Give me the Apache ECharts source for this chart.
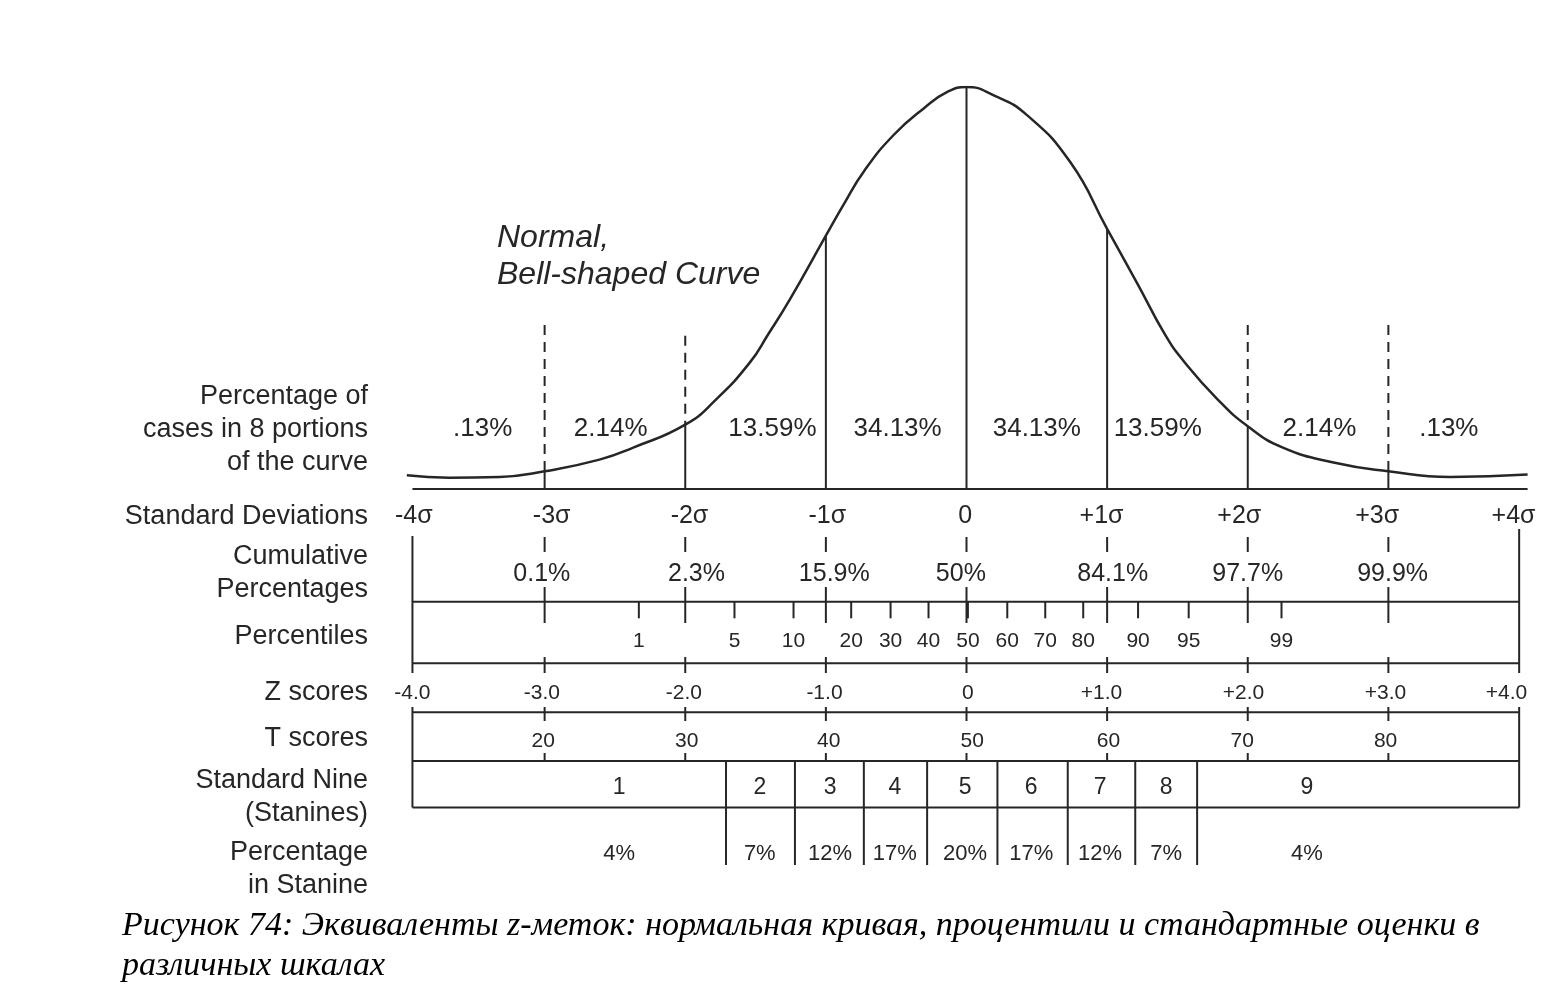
<!DOCTYPE html>
<html>
<head>
<meta charset="utf-8">
<title>Normal curve scales</title>
<script src="https://cdn.jsdelivr.net/npm/echarts@6.0.0/dist/echarts.min.js"></script>
<style>
  html, body { margin: 0; padding: 0; background: #fff; }
  #app { width: 1556px; height: 991px; }
</style>
</head>
<body>
<div id="app"></div>
<script>
// bell curve (x in sigma, height as % of the peak)
const curveSigma = [-3.98, -3.68, -3.32, -3, -2.61, -2.37, -2, -1.78, -1.54, -1.41, -1.26, -1, -0.87, -0.73, -0.52, -0.3, -0.13, 0,
  0.19, 0.43, 0.74, 1, 1.22, 1.41, 1.54, 1.78, 2, 2.25, 2.61, 3, 3.44, 3.99];
const curveHeight = [3.4, 2.8, 3.0, 4.4, 7.3, 10.3, 16.0, 22.3, 31.5, 38.5, 46.9, 63.0, 71.0, 79.0, 88.0, 94.8, 98.9, 100,
  98.0, 93.0, 81.2, 64.7, 50.8, 38.5, 32.0, 22.5, 15.6, 10.3, 6.6, 4.4, 3.0, 3.6];

const sigmaLines = [-3, -2, -1, 0, 1, 2, 3];
const dashedSigma = [-3, -2, 2, 3];
const dashedTop = [40.8, 38.1, 40.8, 40.8];

const portionPercent = [".13%", "2.14%", "13.59%", "34.13%", "34.13%", "13.59%", "2.14%", ".13%"];
const portionAt = [-3.44, -2.53, -1.38, -0.49, 0.5, 1.36, 2.51, 3.43];

const sigmaLabels = ["-4σ", "-3σ", "-2σ", "-1σ", "0", "+1σ", "+2σ", "+3σ", "+4σ"];
const sigmaLabelAt = [-3.93, -2.95, -1.97, -0.99, -0.01, 0.96, 1.94, 2.92, 3.89];

const cumPercent = ["0.1%", "2.3%", "15.9%", "50%", "84.1%", "97.7%", "99.9%"];
const cumPercentAt = [-3.02, -1.92, -0.94, -0.04, 1.04, 2.0, 3.03];

const percentiles = [1, 5, 10, 20, 30, 40, 50, 60, 70, 80, 90, 95, 99];
const percentileAt = [-2.33, -1.65, -1.23, -0.82, -0.54, -0.27, 0.01, 0.29, 0.56, 0.83, 1.22, 1.58, 2.24];

const zScores = ["-4.0", "-3.0", "-2.0", "-1.0", "0", "+1.0", "+2.0", "+3.0", "+4.0"];
const zScoreAt = [-3.94, -3.02, -2.01, -1.01, 0.01, 0.96, 1.97, 2.98, 3.84];

const tScores = [20, 30, 40, 50, 60, 70, 80];
const tScoreAt = [-3.01, -1.99, -0.98, 0.04, 1.01, 1.96, 2.98];

const stanines = [1, 2, 3, 4, 5, 6, 7, 8, 9];
const stanineEdges = [-1.71, -1.22, -0.73, -0.28, 0.22, 0.72, 1.2, 1.64];
const stanineAt = [-2.47, -1.47, -0.97, -0.51, -0.01, 0.46, 0.95, 1.42, 2.42];
const staninePercent = ["4%", "7%", "12%", "17%", "20%", "17%", "12%", "7%", "4%"];

const rowTitles = [
  "Percentage of\ncases in 8 portions\nof the curve",
  "Standard Deviations",
  "Cumulative\nPercentages",
  "Percentiles",
  "Z scores",
  "T scores",
  "Standard Nine\n(Stanines)",
  "Percentage\nin Stanine",
];
const rowTitleY = [430, 517, 573, 637, 693, 739, 797, 869];

const ink = "#262626";
const sans = '"Liberation Sans", Arial, sans-serif';

const app = document.getElementById("app");
const myChart = echarts.init(app);

function curveAt(x) {
  return curveHeight[curveSigma.indexOf(x)];
}

// text row drawn through the axes of grid gi
function textRow(gi, xs, texts, y, size) {
  return {
    type: "custom",
    xAxisIndex: gi,
    yAxisIndex: gi,
    silent: true,
    data: xs.map((x) => [x, y]),
    renderItem: function (params, api) {
      const p = api.coord([api.value(0), api.value(1)]);
      return {
        type: "text",
        style: {
          text: String(texts[params.dataIndex]),
          x: p[0],
          y: p[1] + 2.5,
          align: "center",
          verticalAlign: "middle",
          fill: ink,
          font: size + "px " + sans,
        },
      };
    },
  };
}

// vertical segments [x, yFrom, yTo]
function vSegs(gi, items, dash) {
  return {
    type: "custom",
    xAxisIndex: gi,
    yAxisIndex: gi,
    silent: true,
    data: items,
    renderItem: function (params, api) {
      const a = api.coord([api.value(0), api.value(1)]);
      const b = api.coord([api.value(0), api.value(2)]);
      return {
        type: "line",
        shape: { x1: a[0], y1: a[1], x2: b[0], y2: b[1] },
        style: { stroke: ink, lineWidth: 2, lineDash: dash || null },
      };
    },
  };
}

// horizontal segments [xFrom, xTo, y]
function hSegs(gi, items) {
  return {
    type: "custom",
    xAxisIndex: gi,
    yAxisIndex: gi,
    silent: true,
    data: items,
    renderItem: function (params, api) {
      const a = api.coord([api.value(0), api.value(2)]);
      const b = api.coord([api.value(1), api.value(2)]);
      return {
        type: "line",
        shape: { x1: a[0], y1: a[1], x2: b[0], y2: b[1] },
        style: { stroke: ink, lineWidth: 2 },
      };
    },
  };
}

// table rows (units: px below the baseline)
const L = -3.94, R = 3.93;
const row = {
  sigma: 25, cumTop: [48, 63], cum: 83, cumLow: [98, 134], line1: 112.7, pctTick: [112.7, 129.3], pct: 150,
  line2: 174.3, zTick: [168, 184], z: 201.5, line3: 223.3, tTick: [218, 232], t: 250, tLow: [264, 272],
  line4: 272, stan: 296, line5: 318.5, stanDiv: [272, 376], stanPct: 362.5,
};

const series = [
  {
    type: "line",
    xAxisIndex: 0,
    yAxisIndex: 0,
    data: curveSigma.map((x, i) => [x, curveHeight[i]]),
    smooth: 0.5,
    showSymbol: false,
    symbol: "none",
    silent: true,
    lineStyle: { color: ink, width: 2.5 },
  },
  vSegs(0, sigmaLines.map((x) => [x, curveAt(x), 0])),
  vSegs(0, dashedSigma.map((x, i) => [x, dashedTop[i], curveAt(x)]), [10, 7]),
  hSegs(0, [[-3.94, 3.99, 0]]),
  textRow(0, portionAt, portionPercent, 15.7, 26),

  textRow(1, sigmaLabelAt, sigmaLabels, row.sigma, 25),
  vSegs(1, sigmaLines.map((x) => [x, row.cumTop[0], row.cumTop[1]])),
  textRow(1, cumPercentAt, cumPercent, row.cum, 25),
  vSegs(1, sigmaLines.map((x) => [x, row.cumLow[0], row.cumLow[1]])),
  hSegs(1, [[L, R, row.line1], [L, R, row.line2], [L, R, row.line3], [L, R, row.line4], [L, R, row.line5]]),
  vSegs(1, percentileAt.map((x) => [x, row.pctTick[0], row.pctTick[1]])),
  textRow(1, percentileAt, percentiles, row.pct, 21),
  vSegs(1, sigmaLines.map((x) => [x, row.zTick[0], row.zTick[1]])),
  textRow(1, zScoreAt, zScores, row.z, 21),
  vSegs(1, sigmaLines.map((x) => [x, row.tTick[0], row.tTick[1]])),
  textRow(1, tScoreAt, tScores, row.t, 21),
  vSegs(1, sigmaLines.map((x) => [x, row.tLow[0], row.tLow[1]])),
  vSegs(1, [[L, 47, row.zTick[1]], [L, row.tTick[0], row.line5], [R, 40, row.zTick[1]], [R, row.tTick[0], row.line5]]),
  vSegs(1, stanineEdges.map((x) => [x, row.stanDiv[0], row.stanDiv[1]])),
  textRow(1, stanineAt, stanines, row.stan, 23),
  textRow(1, stanineAt, staninePercent, row.stanPct, 22),
];

const option = {
  backgroundColor: "#fff",
  animation: false,
  grid: [
    { left: 404, right: 27, top: 87, height: 402 },
    { left: 404, right: 27, top: 489, height: 376 },
  ],
  xAxis: [
    { type: "value", gridIndex: 0, min: -4, max: 4, show: false },
    { type: "value", gridIndex: 1, min: -4, max: 4, show: false },
  ],
  yAxis: [
    { type: "value", gridIndex: 0, min: 0, max: 100, show: false },
    { type: "value", gridIndex: 1, min: 0, max: 376, inverse: true, show: false },
  ],
  graphic: rowTitles
    .map((t, i) => ({
      type: "text",
      x: 368,
      y: rowTitleY[i],
      silent: true,
      style: {
        text: t,
        align: "right",
        verticalAlign: "middle",
        lineHeight: 33,
        fill: ink,
        font: "27px " + sans,
      },
    }))
    .concat([
      {
        type: "text",
        x: 497,
        y: 257,
        silent: true,
        style: {
          text: "Normal,\nBell-shaped Curve",
          align: "left",
          verticalAlign: "middle",
          lineHeight: 37,
          fill: ink,
          font: "italic 32px " + sans,
        },
      },
      {
        type: "text",
        x: 122,
        y: 946,
        silent: true,
        style: {
          text: "Рисунок 74: Эквиваленты z-меток: нормальная кривая, процентили и стандартные оценки в\nразличных шкалах",
          align: "left",
          verticalAlign: "middle",
          lineHeight: 40,
          fill: "#000",
          font: 'italic 34px "Liberation Serif", serif',
        },
      },
    ]),
  series: series,
};
myChart.setOption(option);
</script>
</body>
</html>
